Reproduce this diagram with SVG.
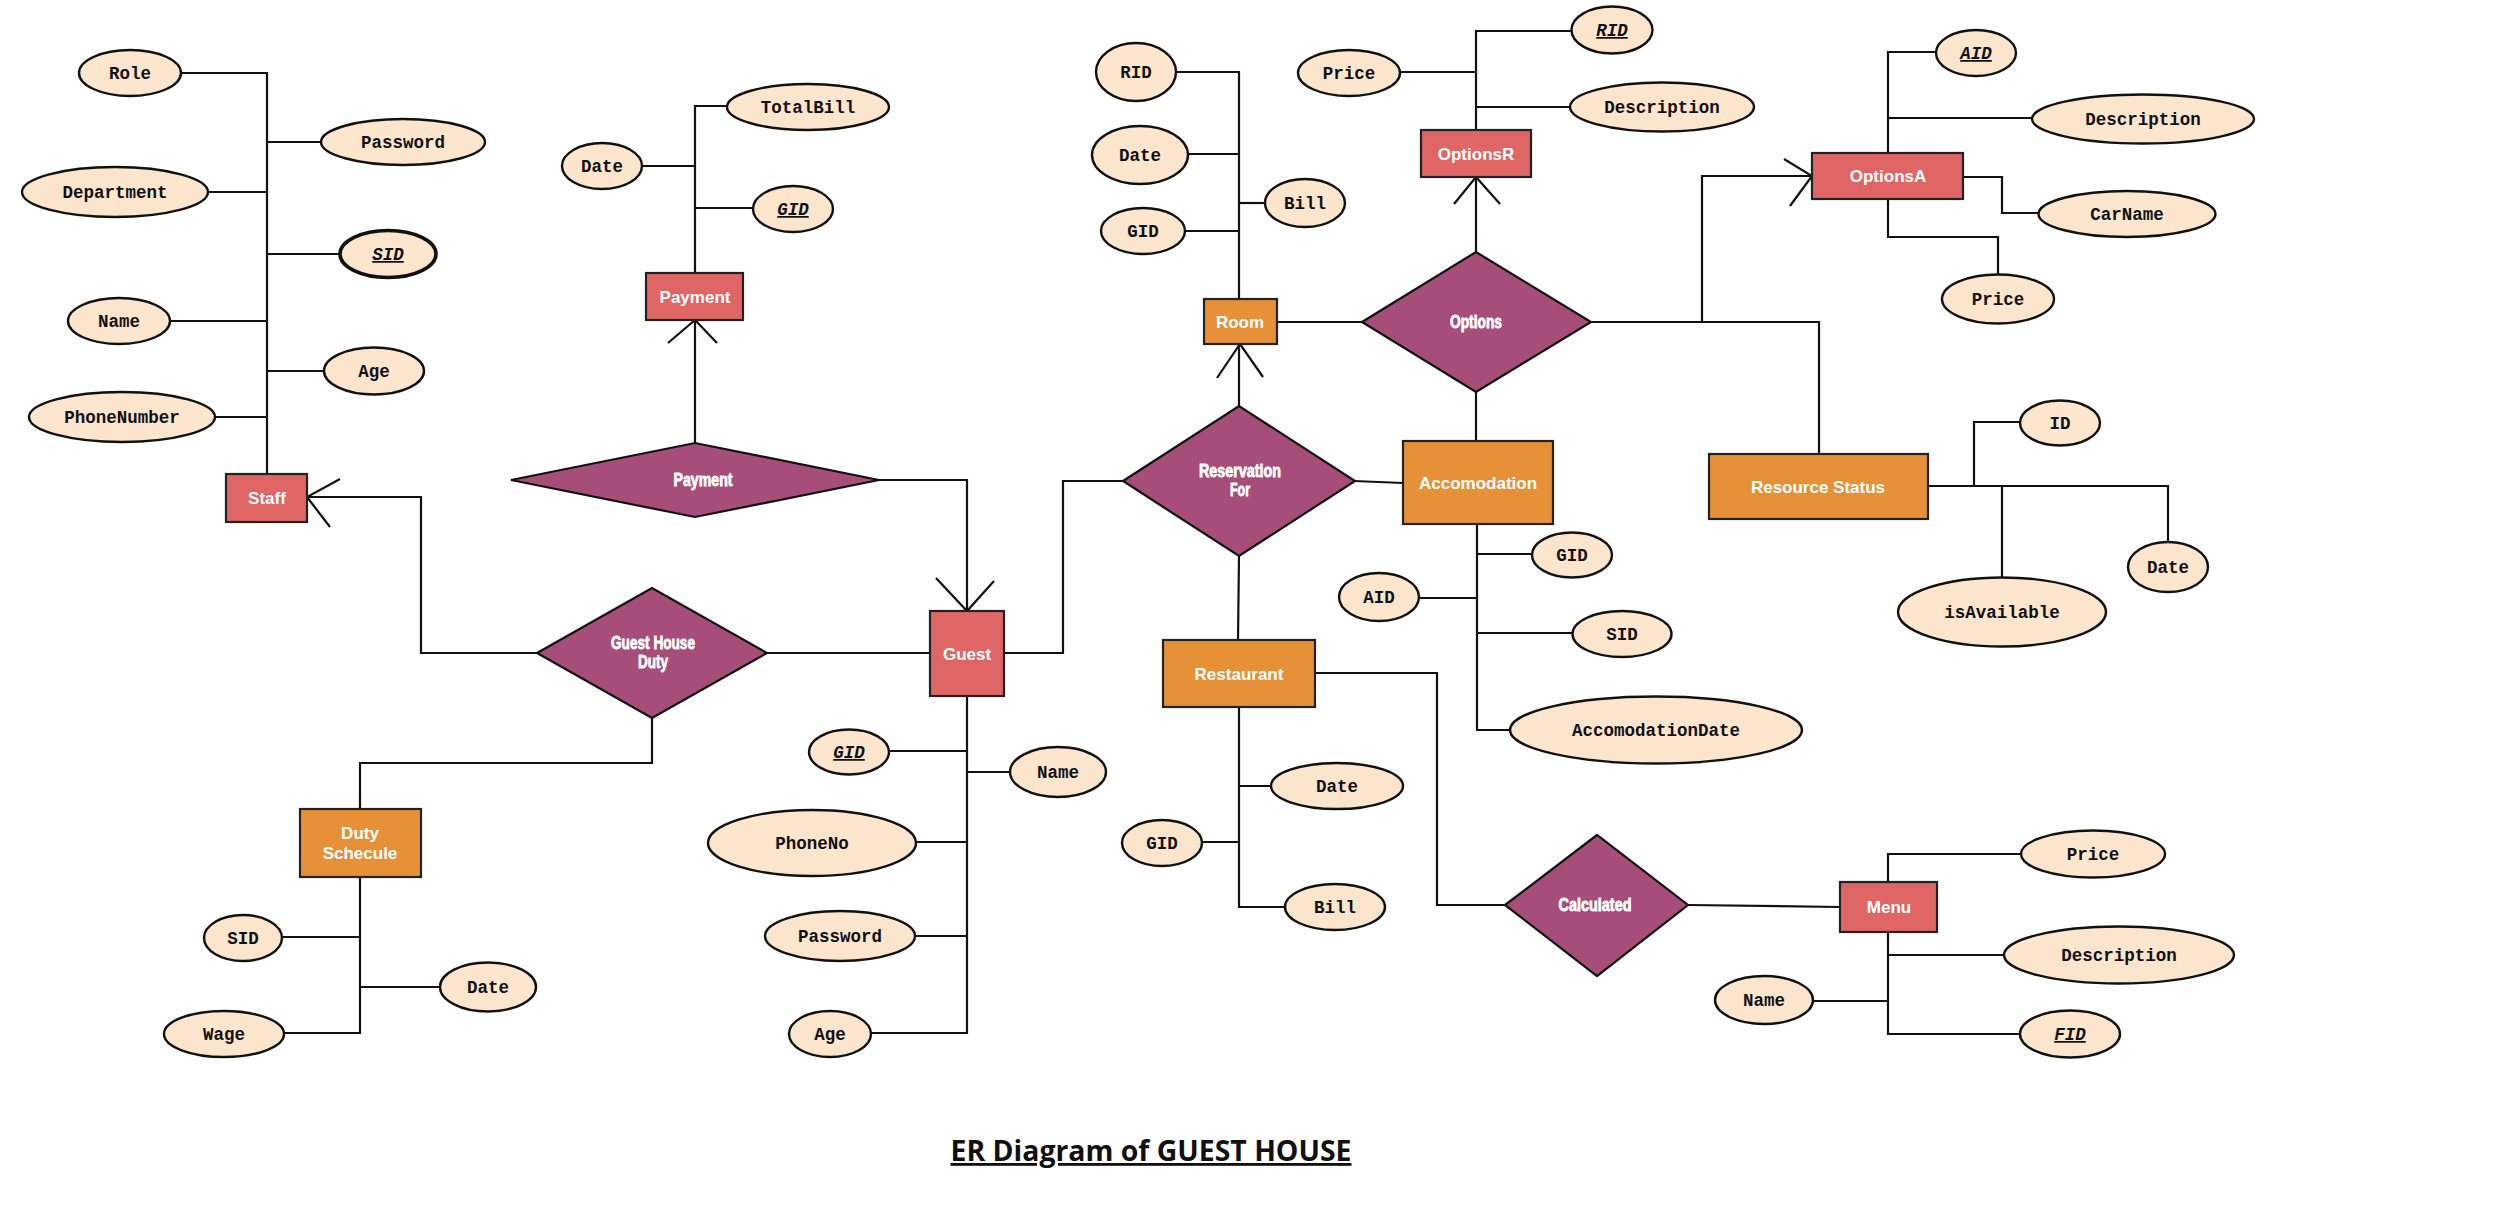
<svg xmlns="http://www.w3.org/2000/svg" width="2500" height="1226" viewBox="0 0 2500 1226">
<style>
.bg{fill:#ffffff}
.ln{fill:none;stroke:#111;stroke-width:2.2;stroke-linejoin:miter}
.at{fill:#fce5cd;stroke:#111;stroke-width:2.4}
.atk{fill:#fce5cd;stroke:#111;stroke-width:3.6}
.er{fill:#e06666;stroke:#222;stroke-width:2.2}
.eo{fill:#e69138;stroke:#222;stroke-width:2.2}
.rl{fill:#a64d79;stroke:#111;stroke-width:2.2}
.ta{font-family:"Liberation Mono","Courier New",monospace;font-weight:bold;font-size:17.5px;fill:#111;text-anchor:middle}
.key{font-style:italic;text-decoration:underline}
.te{font-family:"Liberation Sans",Arial,sans-serif;font-weight:bold;font-size:17px;fill:#ffffff;text-anchor:middle}
.tr{font-family:"Liberation Sans",Arial,sans-serif;font-weight:bold;font-size:18px;fill:#ffffff;stroke:#ffffff;stroke-width:0.8;text-anchor:middle}
.tt{font-family:"Open Sans","Liberation Sans",sans-serif;font-weight:700;font-size:28px;fill:#111;text-anchor:middle;text-decoration:underline}
</style>
<rect class="bg" x="0" y="0" width="2500" height="1226"/>
<g id="connectors">
<path class="ln" d="M181,73 H267 V474"/>
<path class="ln" d="M267,142 H321"/>
<path class="ln" d="M207,192 H267"/>
<path class="ln" d="M267,254 H340"/>
<path class="ln" d="M170,321 H267"/>
<path class="ln" d="M267,371 H324"/>
<path class="ln" d="M215,417 H267"/>
<path class="ln" d="M537,653 H421 V497 H307"/>
<path class="ln" d="M340,479 L307,497 L330,527"/>
<path class="ln" d="M767,653 H930"/>
<path class="ln" d="M652,717 V763 H360 V809"/>
<path class="ln" d="M360,877 V1033 H284"/>
<path class="ln" d="M282,937 H360"/>
<path class="ln" d="M360,987 H440"/>
<path class="ln" d="M643,166 H695"/>
<path class="ln" d="M727,106 H695 V273"/>
<path class="ln" d="M695,208 H753"/>
<path class="ln" d="M695,444 V320"/>
<path class="ln" d="M668,343 L695,320 L717,343"/>
<path class="ln" d="M878,480 H967 V611"/>
<path class="ln" d="M936,578 L967,611 L994,581"/>
<path class="ln" d="M967,696 V1033 H870"/>
<path class="ln" d="M889,751 H967"/>
<path class="ln" d="M967,772 H1010"/>
<path class="ln" d="M915,842 H967"/>
<path class="ln" d="M914,936 H967"/>
<path class="ln" d="M1004,653 H1063 V481 H1123"/>
<path class="ln" d="M1354,481 L1403,483"/>
<path class="ln" d="M1239,406 V344"/>
<path class="ln" d="M1217,378 L1240,344 L1263,377"/>
<path class="ln" d="M1239,556 L1238,640"/>
<path class="ln" d="M1176,72 H1239 V299"/>
<path class="ln" d="M1188,154 H1239"/>
<path class="ln" d="M1186,231 H1239"/>
<path class="ln" d="M1239,203 H1265"/>
<path class="ln" d="M1277,322 H1362"/>
<path class="ln" d="M1476,252 V177"/>
<path class="ln" d="M1454,204 L1476,177 L1500,204"/>
<path class="ln" d="M1476,130 V31 H1572"/>
<path class="ln" d="M1401,72 H1476"/>
<path class="ln" d="M1476,107 H1571"/>
<path class="ln" d="M1591,322 H1819 V454"/>
<path class="ln" d="M1702,322 V176 H1812"/>
<path class="ln" d="M1784,159 L1812,176 L1790,206"/>
<path class="ln" d="M1888,153 V52 H1936"/>
<path class="ln" d="M1888,118 H2032"/>
<path class="ln" d="M1963,177 H2002 V213 H2039"/>
<path class="ln" d="M1888,199 V237 H1998 V274"/>
<path class="ln" d="M1476,392 V441"/>
<path class="ln" d="M1477,524 V730 H1510"/>
<path class="ln" d="M1477,554 H1532"/>
<path class="ln" d="M1419,598 H1477"/>
<path class="ln" d="M1477,633 H1573"/>
<path class="ln" d="M1928,486 H2168 V542"/>
<path class="ln" d="M1974,486 V422 H2020"/>
<path class="ln" d="M2002,486 V577"/>
<path class="ln" d="M1239,707 V907 H1285"/>
<path class="ln" d="M1239,786 H1272"/>
<path class="ln" d="M1203,842 H1239"/>
<path class="ln" d="M1315,673 H1437 V905 H1505"/>
<path class="ln" d="M1688,905 L1840,907"/>
<path class="ln" d="M1888,882 V854 H2021"/>
<path class="ln" d="M1888,932 V1034 H2019"/>
<path class="ln" d="M1888,955 H2004"/>
<path class="ln" d="M1813,1001 H1888"/>
</g>
<g id="staff"><rect class="er" x="226" y="474" width="81" height="48"/><text class="te" x="267" y="504">Staff</text></g>
<g id="staff-role"><ellipse class="at" cx="130" cy="73" rx="51" ry="23"/><text class="ta" x="130" y="79">Role</text></g>
<g id="staff-password"><ellipse class="at" cx="403" cy="142" rx="82" ry="23"/><text class="ta" x="403" y="148">Password</text></g>
<g id="staff-department"><ellipse class="at" cx="115" cy="192" rx="93" ry="25"/><text class="ta" x="115" y="198">Department</text></g>
<g id="staff-sid"><ellipse class="atk" cx="388" cy="254" rx="48" ry="23.5"/><text class="ta key" x="388" y="260">SID</text></g>
<g id="staff-name"><ellipse class="at" cx="119" cy="321" rx="51" ry="23"/><text class="ta" x="119" y="327">Name</text></g>
<g id="staff-age"><ellipse class="at" cx="374" cy="371" rx="50" ry="23.5"/><text class="ta" x="374" y="377">Age</text></g>
<g id="staff-phone"><ellipse class="at" cx="122" cy="417" rx="93" ry="25"/><text class="ta" x="122" y="423">PhoneNumber</text></g>

<g id="payment"><rect class="er" x="646" y="273" width="97" height="47"/><text class="te" x="695" y="303">Payment</text></g>
<g id="payment-date"><ellipse class="at" cx="602" cy="166" rx="40" ry="23"/><text class="ta" x="602" y="172">Date</text></g>
<g id="payment-totalbill"><ellipse class="at" cx="808" cy="107" rx="81" ry="23"/><text class="ta" x="808" y="113">TotalBill</text></g>
<g id="payment-gid"><ellipse class="at" cx="793" cy="209" rx="40" ry="23"/><text class="ta key" x="793" y="215">GID</text></g>
<g id="rel-payment"><polygon class="rl" points="511,480 695,443 879,480 695,517"/><text class="tr" x="703" y="486" textLength="59" lengthAdjust="spacingAndGlyphs">Payment</text></g>

<g id="rel-guesthouseduty"><polygon class="rl" points="537,653 652,588 767,653 652,718"/><text class="tr" x="653" y="649" textLength="84" lengthAdjust="spacingAndGlyphs">Guest House</text><text class="tr" x="653" y="668" textLength="30" lengthAdjust="spacingAndGlyphs">Duty</text></g>
<g id="duty"><rect class="eo" x="300" y="809" width="121" height="68"/><text class="te" x="360" y="839">Duty</text><text class="te" x="360" y="859">Schecule</text></g>
<g id="duty-sid"><ellipse class="at" cx="243" cy="938" rx="39" ry="23"/><text class="ta" x="243" y="944">SID</text></g>
<g id="duty-date"><ellipse class="at" cx="488" cy="987" rx="48" ry="24.5"/><text class="ta" x="488" y="993">Date</text></g>
<g id="duty-wage"><ellipse class="at" cx="224" cy="1034" rx="60" ry="23"/><text class="ta" x="224" y="1040">Wage</text></g>

<g id="guest"><rect class="er" x="930" y="611" width="74" height="85"/><text class="te" x="967" y="660">Guest</text></g>
<g id="guest-gid"><ellipse class="at" cx="849" cy="752" rx="40" ry="22.5"/><text class="ta key" x="849" y="758">GID</text></g>
<g id="guest-name"><ellipse class="at" cx="1058" cy="772" rx="48" ry="25"/><text class="ta" x="1058" y="778">Name</text></g>
<g id="guest-phone"><ellipse class="at" cx="812" cy="843" rx="104" ry="33"/><text class="ta" x="812" y="849">PhoneNo</text></g>
<g id="guest-password"><ellipse class="at" cx="840" cy="936" rx="75" ry="25"/><text class="ta" x="840" y="942">Password</text></g>
<g id="guest-age"><ellipse class="at" cx="830" cy="1034" rx="41" ry="23"/><text class="ta" x="830" y="1040">Age</text></g>

<g id="rel-reservation"><polygon class="rl" points="1123,481 1239,406 1355,481 1239,556"/><text class="tr" x="1240" y="477" textLength="82" lengthAdjust="spacingAndGlyphs">Reservation</text><text class="tr" x="1240" y="496" textLength="20" lengthAdjust="spacingAndGlyphs">For</text></g>
<g id="room"><rect class="eo" x="1204" y="299" width="73" height="45"/><text class="te" x="1240" y="328">Room</text></g>
<g id="room-rid"><ellipse class="at" cx="1136" cy="72" rx="40" ry="29"/><text class="ta" x="1136" y="78">RID</text></g>
<g id="room-date"><ellipse class="at" cx="1140" cy="155" rx="48" ry="29"/><text class="ta" x="1140" y="161">Date</text></g>
<g id="room-gid"><ellipse class="at" cx="1143" cy="231" rx="42" ry="23"/><text class="ta" x="1143" y="237">GID</text></g>
<g id="room-bill"><ellipse class="at" cx="1305" cy="203" rx="40" ry="24"/><text class="ta" x="1305" y="209">Bill</text></g>

<g id="rel-options"><polygon class="rl" points="1362,322 1476,252 1591,322 1476,392"/><text class="tr" x="1476" y="328" textLength="52" lengthAdjust="spacingAndGlyphs">Options</text></g>
<g id="optionsr"><rect class="er" x="1421" y="130" width="110" height="47"/><text class="te" x="1476" y="160">OptionsR</text></g>
<g id="optionsr-rid"><ellipse class="at" cx="1612" cy="30" rx="40.5" ry="23.5"/><text class="ta key" x="1612" y="36">RID</text></g>
<g id="optionsr-price"><ellipse class="at" cx="1349" cy="73" rx="51" ry="23"/><text class="ta" x="1349" y="79">Price</text></g>
<g id="optionsr-desc"><ellipse class="at" cx="1662" cy="107" rx="92" ry="24.5"/><text class="ta" x="1662" y="113">Description</text></g>

<g id="optionsa"><rect class="er" x="1812" y="153" width="151" height="46"/><text class="te" x="1888" y="182">OptionsA</text></g>
<g id="optionsa-aid"><ellipse class="at" cx="1976" cy="53" rx="40" ry="23"/><text class="ta key" x="1976" y="59">AID</text></g>
<g id="optionsa-desc"><ellipse class="at" cx="2143" cy="119" rx="111" ry="24.5"/><text class="ta" x="2143" y="125">Description</text></g>
<g id="optionsa-carname"><ellipse class="at" cx="2127" cy="214" rx="88.5" ry="23"/><text class="ta" x="2127" y="220">CarName</text></g>
<g id="optionsa-price"><ellipse class="at" cx="1998" cy="299" rx="56" ry="24.5"/><text class="ta" x="1998" y="305">Price</text></g>

<g id="accomodation"><rect class="eo" x="1403" y="441" width="150" height="83"/><text class="te" x="1478" y="489">Accomodation</text></g>
<g id="accom-gid"><ellipse class="at" cx="1572" cy="555" rx="40" ry="22.5"/><text class="ta" x="1572" y="561">GID</text></g>
<g id="accom-aid"><ellipse class="at" cx="1379" cy="597" rx="40" ry="24"/><text class="ta" x="1379" y="603">AID</text></g>
<g id="accom-sid"><ellipse class="at" cx="1622" cy="634" rx="49.5" ry="23"/><text class="ta" x="1622" y="640">SID</text></g>
<g id="accom-date"><ellipse class="at" cx="1656" cy="730" rx="146" ry="33.5"/><text class="ta" x="1656" y="736">AccomodationDate</text></g>

<g id="resource-status"><rect class="eo" x="1709" y="454" width="219" height="65"/><text class="te" x="1818" y="493">Resource Status</text></g>
<g id="rs-id"><ellipse class="at" cx="2060" cy="423" rx="40" ry="22.5"/><text class="ta" x="2060" y="429">ID</text></g>
<g id="rs-available"><ellipse class="at" cx="2002" cy="612" rx="104" ry="34.5"/><text class="ta" x="2002" y="618">isAvailable</text></g>
<g id="rs-date"><ellipse class="at" cx="2168" cy="567" rx="40" ry="25"/><text class="ta" x="2168" y="573">Date</text></g>

<g id="restaurant"><rect class="eo" x="1163" y="640" width="152" height="67"/><text class="te" x="1239" y="680">Restaurant</text></g>
<g id="rest-date"><ellipse class="at" cx="1337" cy="786" rx="66" ry="23"/><text class="ta" x="1337" y="792">Date</text></g>
<g id="rest-gid"><ellipse class="at" cx="1162" cy="843" rx="40" ry="23"/><text class="ta" x="1162" y="849">GID</text></g>
<g id="rest-bill"><ellipse class="at" cx="1335" cy="907" rx="50" ry="23"/><text class="ta" x="1335" y="913">Bill</text></g>

<g id="rel-calculated"><polygon class="rl" points="1505,905 1597,835 1688,905 1597,976"/><text class="tr" x="1595" y="911" textLength="73" lengthAdjust="spacingAndGlyphs">Calculated</text></g>
<g id="menu"><rect class="er" x="1840" y="882" width="97" height="50"/><text class="te" x="1889" y="913">Menu</text></g>
<g id="menu-price"><ellipse class="at" cx="2093" cy="854" rx="72" ry="23.5"/><text class="ta" x="2093" y="860">Price</text></g>
<g id="menu-desc"><ellipse class="at" cx="2119" cy="955" rx="115" ry="28.5"/><text class="ta" x="2119" y="961">Description</text></g>
<g id="menu-fid"><ellipse class="at" cx="2070" cy="1034" rx="50" ry="23.5"/><text class="ta key" x="2070" y="1040">FID</text></g>
<g id="menu-name"><ellipse class="at" cx="1764" cy="1000" rx="49" ry="24"/><text class="ta" x="1764" y="1006">Name</text></g>

<g id="title"><text class="tt" x="1151" y="1161" textLength="401" lengthAdjust="spacingAndGlyphs">ER Diagram of GUEST HOUSE</text></g>
</svg>
